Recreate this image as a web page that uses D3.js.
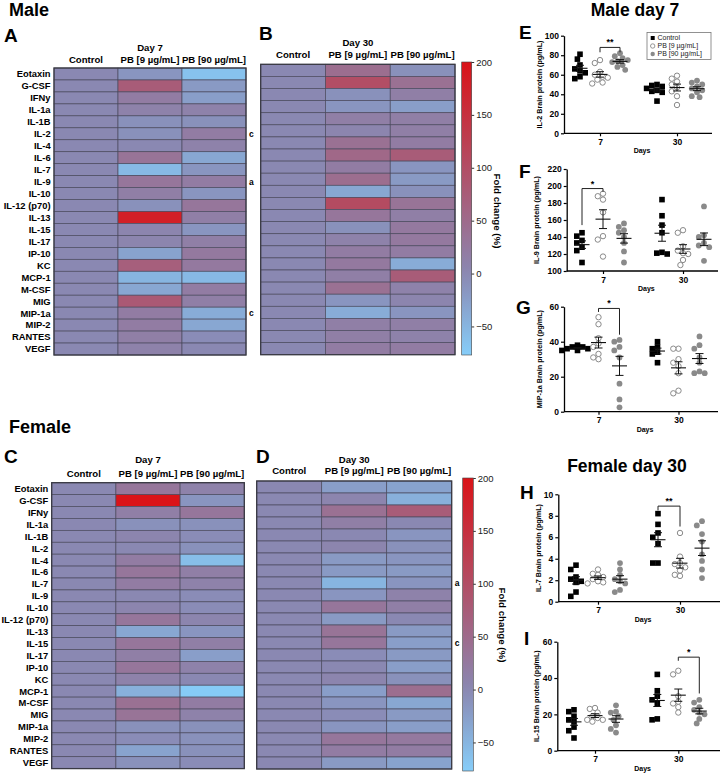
<!DOCTYPE html>
<html><head><meta charset="utf-8">
<script src="https://cdn.jsdelivr.net/npm/d3@7"></script>
<style>
body{margin:0;background:#fff}
svg{display:block}
text{font-family:"Liberation Sans",Arial,Helvetica,sans-serif}
</style>
</head><body>
<svg id="chart" width="723" height="773"></svg>
<script>
// ---------------- DATA ----------------
const cytokines = ["Eotaxin","G-CSF","IFNy","IL-1a","IL-1B","IL-2","IL-4","IL-6","IL-7","IL-9","IL-10","IL-12 (p70)","IL-13","IL-15","IL-17","IP-10","KC","MCP-1","M-CSF","MIG","MIP-1a","MIP-2","RANTES","VEGF"];
const groups = ["Control","PB [9 µg/mL]","PB [90 µg/mL]"];
const colorTicks = [-50, 0, 50, 100, 150, 200];

// fold change (%) heatmaps
const controlFold = [0,0,0,0,0,0,0,0,0,0,0,0,0,0,0,0,0,0,0,0,0,0,0,0];
const maleD7_pb9  = [-15, 75, 20, 10,-10,-10,  0, 35,-55, 30, 15,-10,180,  5,  5,-30, 70,-50,-35, 80, 20, 20, 15, 10];
const maleD7_pb90 = [-65,-20,-25, 10,-10, 20, 10,-35,-15, 20,-15, 30, 15,-15, 15, 25, 25,-55, 20, 15,-40,-35, -5,  0];
const maleD30_pb9 = [ 45,100,-10,-15, 15,  5, 40, 55, 20, 45,-35,105, 30,-10, 10, 20, 25, 15, 40,-15,-40, 15, 15, 20];
const maleD30_pb90= [-10, 40, 15,-25, 15, 15, 20, 75,-15,-20,-10, 35, 15, 25, 25, 20,-40, 75, 10,  5,-15, 15, 10, 20];
const femD7_pb9   = [ 30,200, 15,-10,  5,  0, 20, 30, 20,  0,  5, 30,-35, 30, 15, 30, 10,-45, 40, 35,-10, -5,-30,-10];
const femD7_pb90  = [ 10,-15, 30,-10, -5,-10,-60, 15, 10, -5, -5,  5,-15, 15,-25, 10,  0,-75, 20, 10,-10,-10,-10, -5];
const femD30_pb9  = [-25,  5, 40, 15,  0,  5,-20,-20,-50,-15, 30,-20, 35, 30, -5,  0,  5,-25,-15, -5,-15, 30, 20,-20];
const femD30_pb90 = [-30,-45, 75,  0,-15,-10,-15,-20,-15, 10, 15,  0,-20,-25,-20,-25,-10, 45,-35,-20,-25, 25, 20,-30];

// brain protein (pg/mL) scatter data
const days = ["7","30"];
const il2_d7_ctrl  = [81, 76, 70, 66, 64, 62, 58, 56];
const il2_d7_pb9   = [75, 72, 63, 60, 58, 57, 55, 52, 51];
const il2_d7_pb90  = [82, 79, 77, 75, 74, 73, 70, 68, 65];
const il2_d30_ctrl = [50, 49, 48, 46, 44, 43, 42, 33];
const il2_d30_pb9  = [59, 56, 53, 50, 47, 43, 38, 29];
const il2_d30_pb90 = [54, 52, 50, 48, 46, 44, 42, 38, 37];

const il9_d7_ctrl  = [145, 141, 136, 133, 128, 124, 110];
const il9_d7_pb9   = [191, 188, 184, 169, 141, 137, 117];
const il9_d7_pb90  = [156, 152, 148, 145, 140, 133, 123, 110];
const il9_d30_ctrl = [184, 165, 154, 145, 122, 121, 120];
const il9_d30_pb9  = [148, 145, 129, 124, 121, 120, 113, 107];
const il9_d30_pb90 = [176, 142, 140, 133, 130, 128, 112];

const mip_d7_ctrl  = [38, 37, 37, 36, 36, 35, 35];
const mip_d7_pb9   = [54, 50, 42, 39, 37, 33, 31, 30];
const mip_d7_pb90  = [41, 40, 37, 35, 31, 16, 7, 2.5];
const mip_d30_ctrl = [40, 37, 36, 34, 33, 28];
const mip_d30_pb9  = [36, 36, 30, 28, 26, 22, 12, 10.5];
const mip_d30_pb90 = [43, 38, 36, 31, 28, 23, 22, 22];

const il7_d7_ctrl  = [3.4, 3.0, 2.3, 2.1, 1.9, 1.8, 0.9, 0.5];
const il7_d7_pb9   = [3.0, 2.6, 2.5, 2.3, 2.1, 1.9, 1.8, 1.7];
const il7_d7_pb90  = [3.6, 3.0, 2.5, 2.1, 1.9, 1.7, 1.1, 0.9];
const il7_d30_ctrl = [8.2, 7.2, 6.4, 6.0, 5.4, 3.6, 3.6];
const il7_d30_pb9  = [6.4, 4.2, 3.6, 3.5, 3.2, 2.9, 2.5, 2.4];
const il7_d30_pb90 = [7.5, 7.1, 6.3, 5.6, 4.4, 3.8, 3.0, 2.2];

const il15_d7_ctrl  = [22.5, 21.5, 19, 17, 16, 13, 11, 7];
const il15_d7_pb9   = [23.5, 23, 21, 19, 18, 17, 17, 16];
const il15_d7_pb90  = [25, 21.5, 21, 19, 17, 14, 12, 10];
const il15_d30_ctrl = [42, 33, 30, 28, 26, 17.5, 17];
const il15_d30_pb9  = [44, 42, 30, 27, 26, 24, 21];
const il15_d30_pb90 = [28, 26.5, 24, 22.5, 21, 20, 17.5, 15];

// significance brackets: [day, fromGroup, toGroup, barValue, legFromValue, legToValue, label]
const sigE = ["7", 1, 2, 88, 83, 83, "**"];
const sigF = ["7", 0, 1, 197, 154, 193, "*"];
const sigG = ["7", 1, 2, 59, 57, 44, "*"];
const sigH = ["30", 0, 1, 8.9, 8.5, 7.0, "**"];
const sigI = ["30", 1, 2, 51.5, 49.5, 31.5, "*"];

// ---------------- DRAWING ----------------
const svg = d3.select("#chart");
const FONT = '"Liberation Sans",Arial,sans-serif';
const color = d3.scaleLinear().domain([-77, 0, 200])
  .range(["#86cdf9", "#8a88b2", "#da1318"]).interpolate(d3.interpolateRgb).clamp(true);

function txt(x, y, s, size, weight, anchor, extra) {
  const t = svg.append("text").attr("x", x).attr("y", y).text(s)
    .attr("font-size", size).attr("font-weight", weight || "bold")
    .attr("text-anchor", anchor || "start").attr("fill", "#000");
  if (extra) extra(t);
  return t;
}

function heatmap(cfg) {
  const g = svg.append("g");
  const x = d3.scaleBand().domain(groups).range([cfg.x0, cfg.x1]);
  const y = d3.scaleBand().domain(cytokines).range([cfg.y0, cfg.y1]);
  const cols = [controlFold, cfg.pb9, cfg.pb90];
  groups.forEach((gr, i) => {
    g.selectAll(null).data(cols[i]).join("rect")
      .attr("x", x(gr)).attr("y", (d, j) => y(cytokines[j]))
      .attr("width", x.bandwidth()).attr("height", y.bandwidth())
      .attr("fill", d => color(d)).attr("stroke", "#4b4a5e").attr("stroke-width", 0.7);
  });
  g.append("rect").attr("x", cfg.x0).attr("y", cfg.y0)
    .attr("width", cfg.x1 - cfg.x0).attr("height", cfg.y1 - cfg.y0)
    .attr("fill", "none").attr("stroke", "#3a3a44").attr("stroke-width", 1.3);
  if (cfg.rowLabels) {
    g.selectAll(null).data(cytokines).join("text")
      .attr("x", cfg.x0 - 3.4).attr("y", d => y(d) + y.bandwidth() / 2)
      .attr("dy", "0.36em").attr("text-anchor", "end")
      .attr("font-size", 9.4).attr("font-weight", "bold").attr("font-family", FONT).text(d => d);
  }
  groups.forEach(gr => txt(x(gr) + x.bandwidth() / 2, cfg.hy, gr, 9.6, "bold", "middle"));
  txt(x(groups[1]) + x.bandwidth() / 2, cfg.dy, cfg.day, 9.6, "bold", "middle");
  (cfg.marks || []).forEach(m => txt(cfg.x1 + 3, y(m[0]) + y.bandwidth() / 2 + 3, m[1], 8.5, "bold", "start"));
}

let gradCount = 0;
function colorbar(cfg) {
  const id = "grad" + (gradCount++);
  const grad = svg.append("defs").append("linearGradient").attr("id", id)
    .attr("x1", 0).attr("y1", 1).attr("x2", 0).attr("y2", 0);
  const stops = d3.range(0, 1.0001, 0.05);
  grad.selectAll("stop").data(stops).join("stop")
    .attr("offset", d => d).attr("stop-color", d => color(-77 + d * 277));
  const y = d3.scaleLinear().domain([-77, 200]).range([cfg.y1, cfg.y0]);
  svg.append("rect").attr("x", cfg.x0).attr("y", cfg.y0).attr("width", cfg.x1 - cfg.x0)
    .attr("height", cfg.y1 - cfg.y0).attr("fill", `url(#${id})`)
    .attr("stroke", "#444").attr("stroke-width", 0.6);
  const ax = svg.append("g").attr("transform", `translate(${cfg.x1},0)`)
    .call(d3.axisRight(y).tickValues(colorTicks).tickSize(2.5).tickPadding(2).tickSizeOuter(0));
  ax.select(".domain").remove();
  ax.selectAll("line").attr("stroke", "#333");
  ax.selectAll("text").attr("font-size", 9.5).attr("font-family", FONT).attr("fill", "#222");
  txt(0, 0, "Fold change (%)", 9.7, "bold", "middle",
    t => t.attr("transform", `translate(${cfg.lx},${cfg.ly}) rotate(90)`));
}

function scatter(p) {
  const g = svg.append("g");
  const y = d3.scaleLinear().domain(p.domain).range([p.yb, p.yt]);
  const xd = d3.scalePoint().domain(days).range([p.x7, p.x30]);
  const cx = (day, gi) => xd(day) + (gi - 1) * p.off;
  const ay = g.append("g").attr("transform", `translate(${p.left},0)`)
    .call(d3.axisLeft(y).tickValues(p.ticks).tickSize(3).tickPadding(2).tickSizeOuter(0));
  ay.select(".domain").attr("stroke", "#000").attr("stroke-width", 1.3);
  ay.selectAll("line").attr("stroke-width", 1.2);
  ay.selectAll("text").attr("font-size", 8.5).attr("font-weight", "bold").attr("font-family", FONT);
  const axb = g.append("g").attr("transform", `translate(0,${p.yb})`)
    .call(d3.axisBottom(xd).tickSize(3).tickPadding(2.5).tickSizeOuter(0));
  axb.select(".domain").remove();
  axb.selectAll("line").attr("stroke-width", 1.2);
  axb.selectAll("text").attr("font-size", 8.5).attr("font-weight", "bold").attr("font-family", FONT);
  g.append("line").attr("x1", p.left).attr("x2", p.right).attr("y1", p.yb).attr("y2", p.yb)
    .attr("stroke", "#000").attr("stroke-width", 1.3);
  txt((p.left + p.right) / 2 + 4, p.yb + 20, "Days", 7, "bold", "middle");
  txt(0, 0, p.ylabel, 7.2, "bold", "middle",
    t => t.attr("transform", `translate(${p.left - p.lab},${(p.yt + p.yb) / 2}) rotate(-90)`));
  txt(p.lx, p.ly, p.letter, 19, "bold", "start");

  const r = 2.9;
  function swarm(vals, c) {
    const pts = vals.map(v => ({ v, y: y(v) })).sort((a, b) => a.y - b.y);
    const placed = [];
    const cands = [0];
    for (let i = 1; i < 10; i++) cands.push(-i * 2.6, i * 2.6);
    pts.forEach(pt => {
      let xx = c;
      for (const o of cands) {
        if (placed.every(q => Math.hypot(q.x - (c + o), q.y - pt.y) >= 2 * r - 0.6)) { xx = c + o; break; }
      }
      pt.x = xx; placed.push(pt);
    });
    return pts;
  }
  days.forEach((day, di) => {
    p.data[di].forEach((vals, gi) => {
      const c = cx(day, gi);
      const pts = swarm(vals, c);
      if (gi === 0) {
        g.selectAll(null).data(pts).join("rect")
          .attr("x", d => d.x - 2.8).attr("y", d => d.y - 2.8).attr("width", 5.6).attr("height", 5.6)
          .attr("fill", "#000");
      } else {
        g.selectAll(null).data(pts).join("circle")
          .attr("cx", d => d.x).attr("cy", d => d.y).attr("r", gi === 1 ? 2.7 : r)
          .attr("fill", gi === 1 ? "#fff" : "#8a8a8a")
          .attr("stroke", gi === 1 ? "#8a8a8a" : "none").attr("stroke-width", 1);
      }
      const m = d3.mean(vals), se = d3.deviation(vals) / Math.sqrt(vals.length);
      const lc = "#111";
      g.append("line").attr("x1", c - 7.5).attr("x2", c + 7.5).attr("y1", y(m)).attr("y2", y(m))
        .attr("stroke", lc).attr("stroke-width", 1.1);
      g.append("line").attr("x1", c).attr("x2", c).attr("y1", y(m - se)).attr("y2", y(m + se))
        .attr("stroke", lc).attr("stroke-width", 1);
      [m - se, m + se].forEach(v => g.append("line").attr("x1", c - 4).attr("x2", c + 4)
        .attr("y1", y(v)).attr("y2", y(v)).attr("stroke", lc).attr("stroke-width", 1));
    });
  });
  const s = p.sig;
  const xa = cx(s[0], s[1]), xb = cx(s[0], s[2]);
  g.append("path")
    .attr("d", `M${xa},${y(s[4])}V${y(s[3])}H${xb}V${y(s[5])}`)
    .attr("fill", "none").attr("stroke", "#222").attr("stroke-width", 1);
  txt((xa + xb) / 2, y(s[3]) - 2, s[6], 9, "bold", "middle");
}

// Section titles & panel letters
txt(9, 16, "Male", 18, "bold");
txt(9, 433, "Female", 18, "bold");
txt(4, 42, "A", 19, "bold");
txt(259, 40, "B", 19, "bold");
txt(4, 463, "C", 19, "bold");
txt(256, 463, "D", 19, "bold");
txt(635, 16, "Male day 7", 17.5, "bold", "middle");
txt(627, 471.5, "Female day 30", 17.5, "bold", "middle");

heatmap({x0: 54, x1: 246, y0: 68, y1: 355, pb9: maleD7_pb9, pb90: maleD7_pb90, rowLabels: true,
  hy: 63.3, dy: 50.7, day: "Day 7", marks: [["IL-2", "c"], ["IL-9", "a"], ["MIP-1a", "c"]]});
heatmap({x0: 260.7, x1: 455, y0: 64.3, y1: 354.7, pb9: maleD30_pb9, pb90: maleD30_pb90, rowLabels: false,
  hy: 58.3, dy: 46, day: "Day 30"});
heatmap({x0: 51.7, x1: 244.3, y0: 482.7, y1: 768.6, pb9: femD7_pb9, pb90: femD7_pb90, rowLabels: true,
  hy: 476.7, dy: 463.3, day: "Day 7"});
heatmap({x0: 256.7, x1: 451.7, y0: 481, y1: 769, pb9: femD30_pb9, pb90: femD30_pb90, rowLabels: false,
  hy: 474.3, dy: 463.3, day: "Day 30", marks: [["IL-7", "a"], ["IL-15", "c"]]});

colorbar({x0: 461.7, x1: 471.7, y0: 62, y1: 355, lx: 493.5, ly: 211});
colorbar({x0: 462.7, x1: 473.3, y0: 478, y1: 771, lx: 499, ly: 625});

scatter({letter: "E", lx: 519, ly: 38.5, left: 564, right: 712, yt: 35.7, yb: 133.3, domain: [0, 100],
  ticks: [0, 20, 40, 60, 80, 100], x7: 600, x30: 677, off: 20, lab: 22,
  ylabel: "IL-2 Brain protein (pg/mL)", sig: sigE,
  data: [[il2_d7_ctrl, il2_d7_pb9, il2_d7_pb90], [il2_d30_ctrl, il2_d30_pb9, il2_d30_pb90]]});
scatter({letter: "F", lx: 519, ly: 177.5, left: 566.7, right: 718, yt: 169, yb: 271, domain: [100, 220],
  ticks: [100, 120, 140, 160, 180, 200, 220], x7: 603, x30: 683, off: 21, lab: 28,
  ylabel: "IL-9 Brain protein (pg/mL)", sig: sigF,
  data: [[il9_d7_ctrl, il9_d7_pb9, il9_d7_pb90], [il9_d30_ctrl, il9_d30_pb9, il9_d30_pb90]]});
scatter({letter: "G", lx: 516, ly: 314, left: 564, right: 718, yt: 306.7, yb: 411.7, domain: [0, 60],
  ticks: [0, 20, 40, 60], x7: 598.5, x30: 678.5, off: 21, lab: 22,
  ylabel: "MIP-1a Brain protein (pg/mL)", sig: sigG,
  data: [[mip_d7_ctrl, mip_d7_pb9, mip_d7_pb90], [mip_d30_ctrl, mip_d30_pb9, mip_d30_pb90]]});
scatter({letter: "H", lx: 520, ly: 498.5, left: 558.3, right: 720, yt: 494.3, yb: 601.7, domain: [0, 10],
  ticks: [0, 2, 4, 6, 8, 10], x7: 598, x30: 680, off: 22, lab: 17,
  ylabel: "IL-7 Brain protein (pg/mL)", sig: sigH,
  data: [[il7_d7_ctrl, il7_d7_pb9, il7_d7_pb90], [il7_d30_ctrl, il7_d30_pb9, il7_d30_pb90]]});
scatter({letter: "I", lx: 524, ly: 644.5, left: 557.3, right: 720, yt: 641.7, yb: 750.7, domain: [0, 60],
  ticks: [0, 20, 40, 60], x7: 595, x30: 678.3, off: 21, lab: 18,
  ylabel: "IL-15 Brain protein (pg/mL)", sig: sigI,
  data: [[il15_d7_ctrl, il15_d7_pb9, il15_d7_pb90], [il15_d30_ctrl, il15_d30_pb9, il15_d30_pb90]]});

// Legend for panel E
const lg = svg.append("g");
lg.append("rect").attr("x", 647).attr("y", 32.5).attr("width", 64).attr("height", 27)
  .attr("fill", "#fff").attr("stroke", "#777").attr("stroke-width", 0.8);
groups.forEach((gname, i) => {
  const yy = 38 + i * 8, xx = 652.7;
  if (i === 0) lg.append("rect").attr("x", xx - 2).attr("y", yy - 2).attr("width", 4).attr("height", 4).attr("fill", "#000");
  else lg.append("circle").attr("cx", xx).attr("cy", yy).attr("r", 2.2)
    .attr("fill", i === 1 ? "#fff" : "#8a8a8a").attr("stroke", i === 1 ? "#8a8a8a" : "none").attr("stroke-width", 0.9);
  lg.append("text").attr("x", 657.5).attr("y", yy + 2.4).text(gname)
    .attr("font-size", 7).attr("font-family", FONT).attr("fill", "#222");
});
</script>
</body></html>
